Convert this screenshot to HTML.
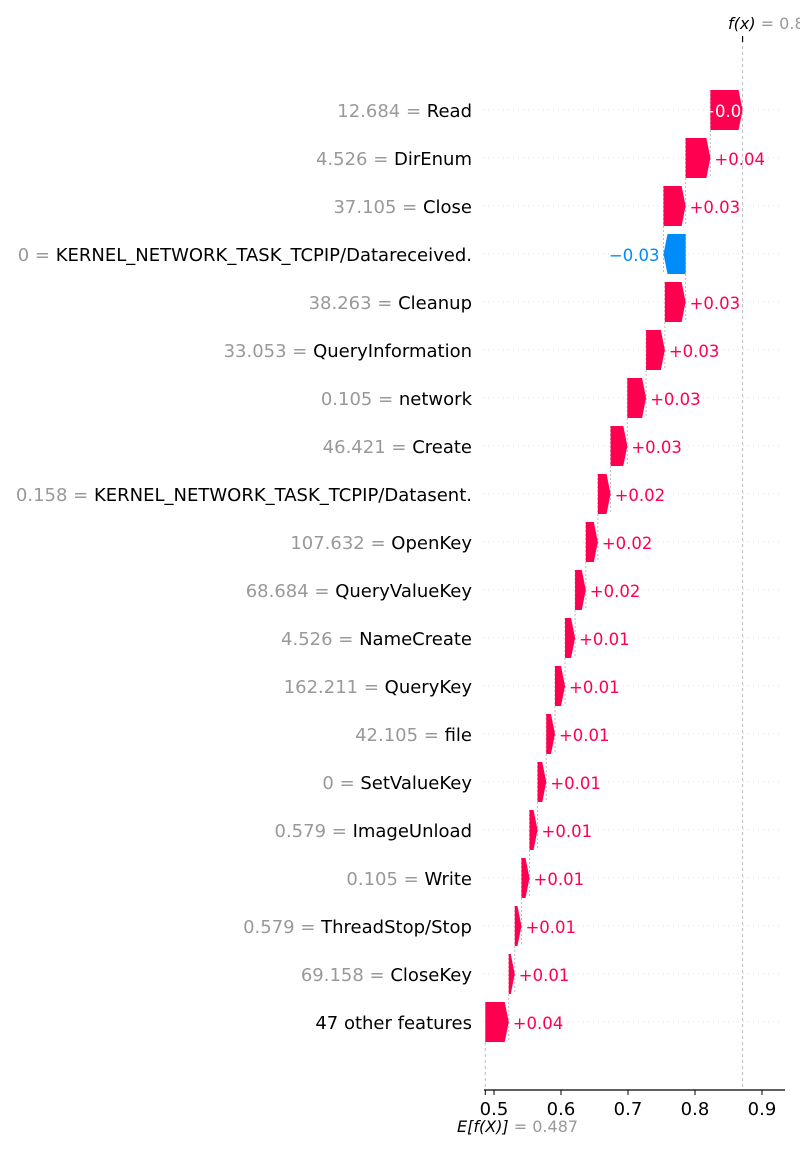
<!DOCTYPE html>
<html><head><meta charset="utf-8">
<style>
html,body{margin:0;padding:0;background:#fff;}
svg{display:block;font-family:"DejaVu Sans","Liberation Sans",sans-serif;}
</style></head>
<body>
<svg id="chart" width="800" height="1150" viewBox="0 0 800 1150" xmlns="http://www.w3.org/2000/svg"></svg>
<script>
const featureValues = ["12.684","4.526","37.105","0","38.263","33.053","0.105","46.421","0.158","107.632","68.684","4.526","162.211","42.105","0","0.579","0.105","0.579","69.158",""];
const featureNames = ["Read","DirEnum","Close","KERNEL_NETWORK_TASK_TCPIP/Datareceived.","Cleanup","QueryInformation","network","Create","KERNEL_NETWORK_TASK_TCPIP/Datasent.","OpenKey","QueryValueKey","NameCreate","QueryKey","file","SetValueKey","ImageUnload","Write","ThreadStop/Stop","CloseKey","47 other features"];
const shapValues = [0.048,0.037,0.033,-0.033,0.031,0.028,0.028,0.025,0.019,0.018,0.016,0.015,0.015,0.013,0.013,0.012,0.012,0.010,0.009,0.035];
const shapLabels = ["+0.05","+0.04","+0.03","\u22120.03","+0.03","+0.03","+0.03","+0.03","+0.02","+0.02","+0.02","+0.01","+0.01","+0.01","+0.01","+0.01","+0.01","+0.01","+0.01","+0.04"];
const baseValue = 0.487;
const xTicks = [0.5,0.6,0.7,0.8,0.9];

const NS="http://www.w3.org/2000/svg";
const svg=document.getElementById('chart');
const x=v=>494+(v-0.5)*670;
const rowY=i=>110+i*48;
const RED="#ff0051", BLUE="#008bfb";
function el(tag,attrs,parent){const e=document.createElementNS(NS,tag);for(const k in attrs)e.setAttribute(k,attrs[k]);(parent||svg).appendChild(e);return e;}

const n=featureNames.length;
const starts=new Array(n), ends=new Array(n);
let cum=baseValue;
for(let i=n-1;i>=0;i--){starts[i]=cum;cum+=shapValues[i];ends[i]=cum;}
const fx=cum;

for(let i=0;i<n;i++){
  const g=el('line',{x1:483,x2:783,y1:rowY(i),y2:rowY(i),stroke:"#dddddd","stroke-width":1,"stroke-dasharray":"1,4"});
  
  
}
const bl=el('line',{x1:x(baseValue),x2:x(baseValue),y1:rowY(n-1)+20,y2:1090,stroke:"#bbbbbb","stroke-width":1,"stroke-dasharray":"3,3"});


const fl=el('line',{x1:x(fx),x2:x(fx),y1:40,y2:1090,stroke:"#bbbbbb","stroke-width":1,"stroke-dasharray":"3,3"});


for(let i=0;i<n-1;i++){
  const c=el('line',{x1:x(starts[i]),x2:x(starts[i]),y1:rowY(i)-20,y2:rowY(i+1)+20,stroke:"#bbbbbb","stroke-width":1,"stroke-dasharray":"2,2"});
  
  
}
for(let i=0;i<n;i++){
  const v=shapValues[i], y=rowY(i), h=20;
  const a=x(starts[i]), b=x(ends[i]);
  const w=Math.abs(b-a), head=Math.min(4,w);
  let pts;
  if(v>=0){pts=[[a,y-h],[b-head,y-h],[b,y],[b-head,y+h],[a,y+h]];}
  else{pts=[[a,y-h],[b+head,y-h],[b,y],[b+head,y+h],[a,y+h]];}
  const p=el('polygon',{points:pts.map(q=>q.join(',')).join(' '),fill:v>=0?RED:BLUE});
  
  
  let t;
  if(i===0){
    t=el('text',{x:(a+b)/2,y:y+7,"text-anchor":"middle","font-size":16.5,fill:"#ffffff"});
  } else if(v>=0){
    t=el('text',{x:b+4,y:y+7,"font-size":16.5,fill:RED});
  } else {
    t=el('text',{x:b-4,y:y+7,"text-anchor":"end","font-size":16.5,fill:BLUE});
  }
  t.textContent=shapLabels[i];
  
  
  const ft=el('text',{x:472,y:y+7,"text-anchor":"end","font-size":18});
  
  
  if(featureValues[i]!==""){
    const s1=el('tspan',{fill:"#999999"},ft);s1.textContent=featureValues[i]+" = ";
  }
  const s2=el('tspan',{fill:"#000000"},ft);s2.textContent=featureNames[i];
}
const ax=el('line',{x1:484,x2:785,y1:1090,y2:1090,stroke:"#000","stroke-width":1.2});


for(const tv of xTicks){
  const tk=el('line',{x1:x(tv),x2:x(tv),y1:1090,y2:1095,stroke:"#000","stroke-width":1});
  
  
  const tl=el('text',{x:x(tv),y:1115,"text-anchor":"middle","font-size":18,fill:"#000"});
  tl.textContent=tv.toFixed(1);
  
  
}
const bt=el('line',{x1:x(baseValue),x2:x(baseValue),y1:1090,y2:1095,stroke:"#000","stroke-width":1});


const et=el('text',{x:457,y:1132,"font-size":16});


const e1=el('tspan',{fill:"#000","font-style":"italic"},et);e1.textContent="E[f(X)]";
const e2=el('tspan',{fill:"#999999"},et);e2.textContent=" = "+baseValue.toFixed(3);
const ftk=el('line',{x1:x(fx),x2:x(fx),y1:36,y2:42,stroke:"#000","stroke-width":1.2});


const ftx=el('text',{x:728,y:29,"font-size":16});


const f1=el('tspan',{fill:"#000","font-style":"italic"},ftx);f1.textContent="f(x)";
const f2=el('tspan',{fill:"#999999"},ftx);f2.textContent=" = "+fx.toFixed(3);
</script>
</body></html>
